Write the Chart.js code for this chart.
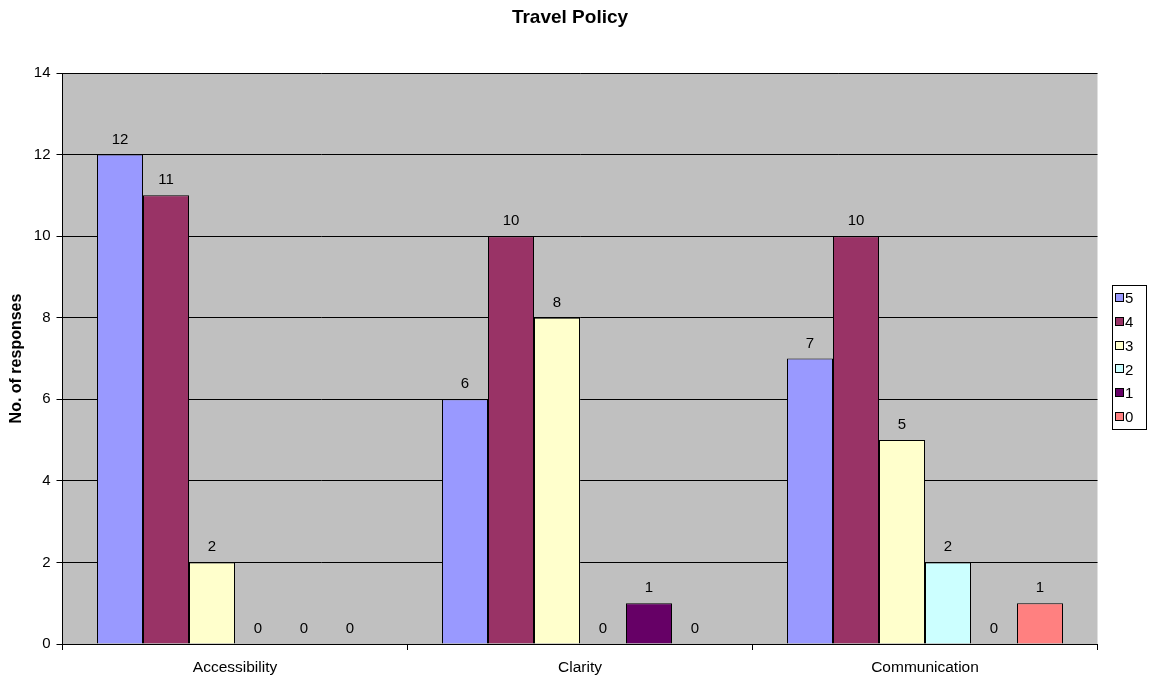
<!DOCTYPE html>
<html>
<head>
<meta charset="utf-8">
<title>Travel Policy</title>
<script src="https://cdn.jsdelivr.net/npm/chart.js@4.4.0/dist/chart.umd.min.js"></script>
<style>
  html, body { margin: 0; padding: 0; background: #ffffff; }
  #wrap { width: 1150px; height: 677px; }
</style>
</head>
<body>
<div id="wrap"><canvas id="chart" width="1150" height="677"></canvas></div>
<script>
// Survey categories and response counts per rating (5 = best, 0 = worst)
const categories = ['Accessibility', 'Clarity', 'Communication'];
const ratingLabels = ['5', '4', '3', '2', '1', '0'];
const rating5 = [12, 6, 7];
const rating4 = [11, 10, 10];
const rating3 = [2, 8, 5];
const rating2 = [0, 0, 2];
const rating1 = [0, 1, 0];
const rating0 = [0, 0, 1];
const yTicks = [0, 2, 4, 6, 8, 10, 12, 14];

const seriesValues = [rating5, rating4, rating3, rating2, rating1, rating0];
const seriesColors = ['#9999FF', '#993366', '#FFFFCC', '#CCFFFF', '#660066', '#FF8080'];

const FONT = 'Arial, "Liberation Sans", Helvetica, sans-serif';

// Grey plot background
const plotBackground = {
  id: 'plotBackground',
  beforeDraw(chart) {
    const { ctx, chartArea: a } = chart;
    ctx.save();
    ctx.fillStyle = '#C0C0C0';
    ctx.fillRect(a.left, a.top, a.right - a.left, a.bottom - a.top);
    ctx.restore();
  }
};

// Value printed above every bar (zeros included)
const valueLabels = {
  id: 'valueLabels',
  afterDatasetsDraw(chart) {
    const { ctx } = chart;
    ctx.save();
    ctx.font = '15px ' + FONT;
    ctx.fillStyle = '#000000';
    ctx.textAlign = 'center';
    ctx.textBaseline = 'alphabetic';
    chart.data.datasets.forEach((ds, i) => {
      const meta = chart.getDatasetMeta(i);
      meta.data.forEach((bar, j) => {
        ctx.fillText(String(ds.data[j]), bar.x, bar.y - 11);
      });
    });
    ctx.restore();
  }
};

// Chart heading and boxed legend on the right
const headingAndLegend = {
  id: 'headingAndLegend',
  afterDraw(chart) {
    const { ctx } = chart;
    ctx.save();
    ctx.fillStyle = '#000000';
    ctx.font = 'bold 19px ' + FONT;
    ctx.textAlign = 'center';
    ctx.textBaseline = 'alphabetic';
    ctx.fillText('Travel Policy', 570, 23);

    const boxX = 1112.5, boxY = 285.5, boxW = 34, boxH = 144;
    ctx.fillStyle = '#ffffff';
    ctx.fillRect(boxX, boxY, boxW, boxH);
    ctx.strokeStyle = '#000000';
    ctx.lineWidth = 1;
    ctx.strokeRect(boxX, boxY, boxW, boxH);

    ctx.font = '15px ' + FONT;
    ctx.textAlign = 'left';
    ctx.textBaseline = 'middle';
    chart.data.datasets.forEach((ds, i) => {
      const cy = 298 + i * 23.8;
      ctx.fillStyle = ds.backgroundColor;
      ctx.fillRect(1115.5, Math.round(cy) - 4.5, 8, 8);
      ctx.strokeStyle = '#000000';
      ctx.strokeRect(1115.5, Math.round(cy) - 4.5, 8, 8);
      ctx.fillStyle = '#000000';
      ctx.fillText(ds.label, 1125, cy + 1);
    });
    ctx.restore();
  }
};

const datasets = ratingLabels.map((label, i) => ({
  label: label,
  data: seriesValues[i],
  backgroundColor: seriesColors[i],
  borderColor: '#000000',
  borderWidth: 1,
  borderSkipped: 'bottom',
  categoryPercentage: 0.8,
  barPercentage: 1.0
}));

new Chart(document.getElementById('chart'), {
  type: 'bar',
  data: { labels: categories, datasets: datasets },
  options: {
    responsive: false,
    animation: false,
    layout: { padding: { left: 0, top: 73, right: 52.5, bottom: 0 } },
    plugins: {
      legend: { display: false },
      title: { display: false },
      tooltip: { enabled: false }
    },
    scales: {
      x: {
        offset: true,
        afterFit(scale) { scale.height = 33; },
        grid: {
          offset: true,
          drawOnChartArea: false,
          drawTicks: true,
          tickLength: 6,
          color: '#000000',
          tickColor: '#000000'
        },
        border: { display: true, color: '#000000', width: 1 },
        ticks: {
          color: '#000000',
          font: { family: FONT, size: 15.5 },
          padding: 8,
          maxRotation: 0
        }
      },
      y: {
        min: 0,
        max: 14,
        afterFit(scale) { scale.width = 62.5; },
        afterBuildTicks(scale) { scale.ticks = yTicks.map(v => ({ value: v })); },
        grid: {
          color: '#000000',
          tickColor: '#000000',
          lineWidth: 1,
          drawTicks: true,
          tickLength: 6
        },
        border: { display: true, color: '#000000', width: 1 },
        ticks: {
          color: '#000000',
          font: { family: FONT, size: 15 },
          padding: 6
        },
        title: {
          display: true,
          text: 'No. of responses',
          color: '#000000',
          font: { family: FONT, size: 16, weight: 'bold' },
          padding: { top: 7, bottom: 0 }
        }
      }
    }
  },
  plugins: [plotBackground, valueLabels, headingAndLegend]
});
</script>
</body>
</html>
